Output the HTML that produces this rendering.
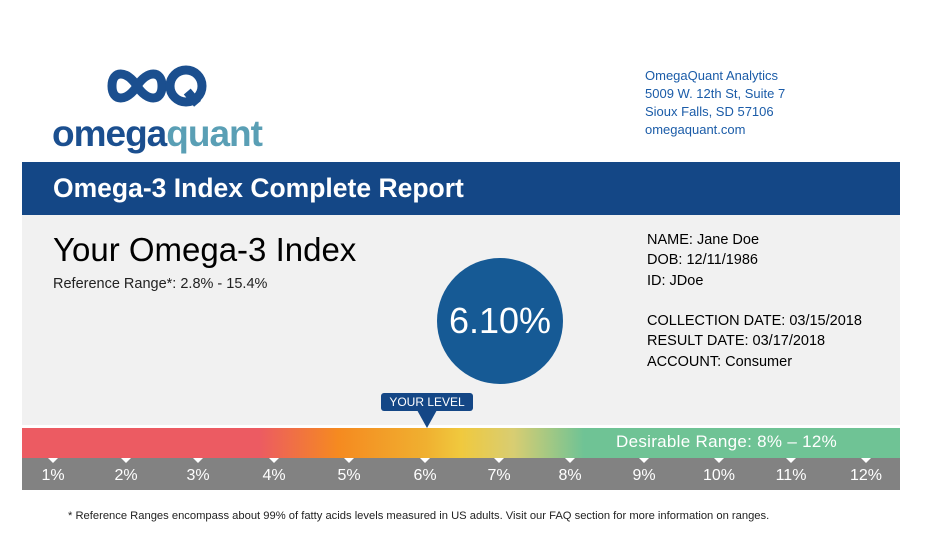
<!DOCTYPE html>
<html><head><style>
body{margin:0;width:942px;height:541px;background:#fff;position:relative;overflow:hidden;font-family:"Liberation Sans",sans-serif}
.a{position:absolute}
</style></head><body>
<svg class="a" style="left:106px;top:62px" width="105" height="50" viewBox="0 0 105 50">
<path d="M31 24 C21 8 6 8 6 24 C6 40 21 40 31 24 C41 8 56 8 56 24 C56 40 41 40 31 24Z" fill="none" stroke="#1b4f8f" stroke-width="9"/>
<circle cx="80" cy="24" r="16" fill="none" stroke="#1b4f8f" stroke-width="9"/>
<rect x="82" y="28" width="9" height="16" fill="#1b4f8f" transform="rotate(-40 86 36)"/>
</svg>
<div class="a" style="left:52px;top:112px;font-size:37px;font-weight:bold;letter-spacing:-1px;color:#1b4f8f;line-height:44px">omega<span style="color:#5a9fb5">quant</span></div>
<div class="a" style="left:645px;top:67px;font-size:13px;line-height:18px;color:#1b5ca8">OmegaQuant Analytics<br>5009 W. 12th St, Suite 7<br>Sioux Falls, SD 57106<br>omegaquant.com</div>
<div class="a" style="left:22px;top:162px;width:878px;height:53px;background:#144786"></div>
<div class="a" style="left:53px;top:173px;font-size:26.5px;font-weight:bold;color:#fff">Omega-3 Index Complete Report</div>
<div class="a" style="left:22px;top:215px;width:878px;height:210px;background:#f1f1f1"></div>
<div class="a" style="left:53px;top:231px;font-size:33px;color:#000">Your Omega-3 Index</div>
<div class="a" style="left:53px;top:276px;font-size:14.5px;color:#222">Reference Range*: 2.8% - 15.4%</div>
<div class="a" style="left:437px;top:258px;width:126px;height:126px;border-radius:50%;background:#165a95;color:#fff;font-size:36px;text-align:center;line-height:126px">6.10%</div>
<div class="a" style="left:647px;top:230px;font-size:14.5px;line-height:20.3px;color:#000">NAME: Jane Doe<br>DOB: 12/11/1986<br>ID: JDoe<br><br>COLLECTION DATE: 03/15/2018<br>RESULT DATE: 03/17/2018<br>ACCOUNT: Consumer</div>
<div class="a" style="left:381px;top:393px;width:92px;height:18px;background:#144786;border-radius:3px;color:#fff;font-size:12px;text-align:center;line-height:18px">YOUR LEVEL</div>
<div class="a" style="left:417px;top:410px;width:0;height:0;border-left:10px solid transparent;border-right:10px solid transparent;border-top:18px solid #144786"></div>
<div class="a" style="left:22px;top:428px;width:878px;height:30px;background:linear-gradient(to right,#ec5b62 0%,#ec5b62 27%,#f58a20 36%,#f0b030 46%,#f0c93e 50%,#d8cd72 56%,#6fc395 64%,#6fc395 100%)"></div>
<div class="a" style="left:616px;top:432px;font-size:17px;color:#fff;letter-spacing:0.3px">Desirable Range: 8% – 12%</div>
<div class="a" style="left:22px;top:458px;width:878px;height:32px;background:#828282"></div>
<div class="a" style="left:0;top:0" id="t"></div>
<script>
var xs=[53,126,198,274,349,425,499,570,644,719,791,866],h='';
xs.forEach(function(x,i){h+='<div class="a" style="left:'+(x-5)+'px;top:458px;width:0;height:0;border-left:5px solid transparent;border-right:5px solid transparent;border-top:5px solid #fff"></div><div class="a" style="left:'+(x-25)+'px;top:467px;width:50px;text-align:center;color:#fff;font-size:16px">'+(i+1)+'%</div>';});
document.getElementById('t').innerHTML=h;
</script>
<div class="a" style="left:68px;top:510px;font-size:11.2px;color:#222">* Reference Ranges encompass about 99% of fatty acids levels measured in US adults. Visit our FAQ section for more information on ranges.</div>
</body></html>
